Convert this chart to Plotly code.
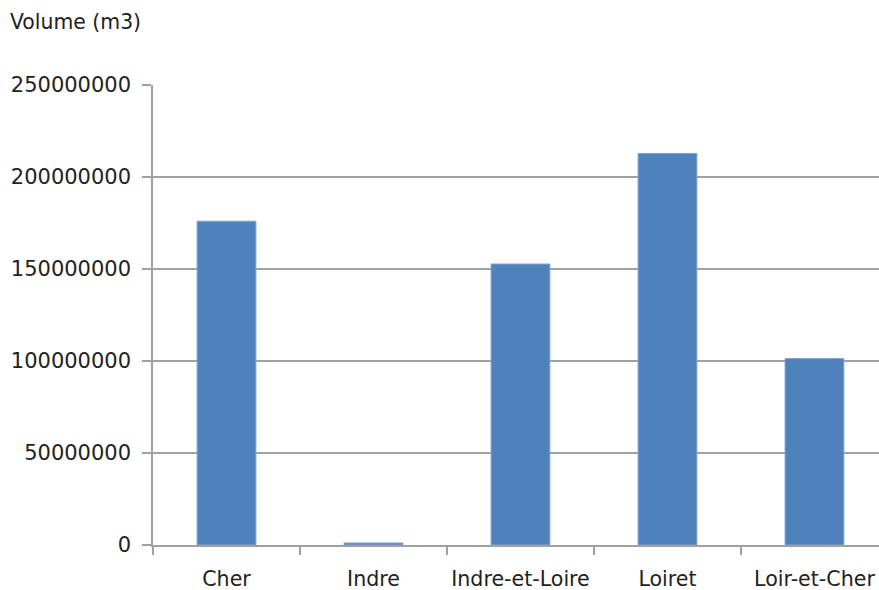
import plotly.graph_objects as go

# Volume per department (m3)
departements = ["Cher", "Indre", "Indre-et-Loire", "Loiret", "Loir-et-Cher"]
volumes = [176000000, 1100000, 152700000, 212800000, 101300000]
y_ticks = [0, 50000000, 100000000, 150000000, 200000000, 250000000]
y_tick_labels = [str(v) for v in y_ticks]

bar_color = "#4F81BD"
grid_color = "#A0A0A0"
text_color = "#222222"
font_family = "DejaVu Sans"

fig = go.Figure(
    go.Bar(
        x=departements,
        y=volumes,
        marker=dict(color=bar_color, line=dict(color="#7FA3D3", width=1)),
        width=0.4,
    )
)

fig.update_layout(
    width=879,
    height=590,
    margin=dict(l=153, r=0, t=85, b=45, autoexpand=False),
    paper_bgcolor="white",
    plot_bgcolor="white",
    showlegend=False,
    font=dict(family=font_family, size=20, color=text_color),
    title=dict(
        text="Volume (m3)",
        x=10 / 879,
        xanchor="left",
        xref="container",
        y=1 - 22 / 590,
        yanchor="middle",
        yref="container",
        font=dict(family=font_family, size=20.4, color=text_color),
    ),
)

fig.update_xaxes(
    type="category",
    range=[-0.5, 4.439],
    automargin=False,
    tickangle=0,
    showline=True,
    linecolor=grid_color,
    linewidth=1.5,
    showgrid=False,
    ticks="outside",
    tickson="boundaries",
    ticklen=8,
    tickwidth=1.5,
    tickcolor=grid_color,
    tickfont=dict(family=font_family, size=20.6, color=text_color),
    ticklabelstandoff=15,
)

fig.update_yaxes(
    range=[0, 250000000],
    automargin=False,
    tickvals=y_ticks,
    ticktext=y_tick_labels,
    showline=True,
    linecolor=grid_color,
    linewidth=1.5,
    showgrid=True,
    gridcolor=grid_color,
    gridwidth=1.5,
    zeroline=False,
    ticks="outside",
    ticklen=9,
    tickwidth=1.5,
    tickcolor=grid_color,
    tickfont=dict(family=font_family, size=21, color=text_color),
    ticklabelstandoff=7,
)

fig.write_html("out.html")
